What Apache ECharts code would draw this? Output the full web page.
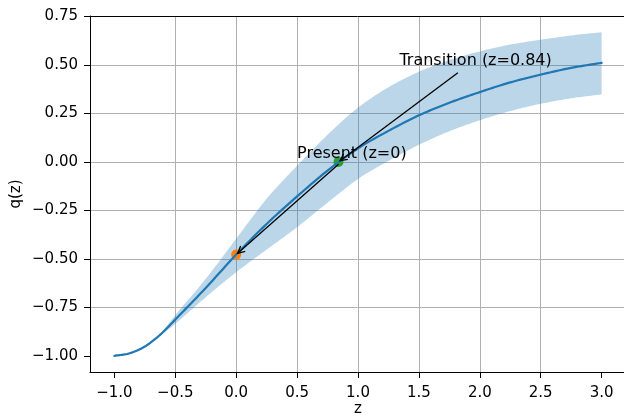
<!DOCTYPE html>
<html>
<head>
<meta charset="utf-8">
<script src="https://cdn.jsdelivr.net/npm/echarts@6/dist/echarts.min.js"></script>
<style>
html,body{margin:0;padding:0;background:#fff;}
#chart{width:624px;height:417px;}
</style>
</head>
<body>
<div id="chart"></div>
<script>
// ---- data ----
const zValues = [-1.0, -0.875, -0.75, -0.625, -0.5, -0.25, 0.0, 0.25, 0.5, 0.75, 1.0, 1.25, 1.5, 1.75, 2.0, 2.25, 2.5, 2.75, 3.0];
const qMedian = [-1.0, -0.987, -0.952, -0.892, -0.813, -0.65, -0.478, -0.32, -0.178, -0.045, 0.07, 0.16, 0.24, 0.305, 0.36, 0.41, 0.45, 0.485, 0.511];
const qLower  = [-1.0, -0.987, -0.953, -0.897, -0.835, -0.698, -0.569, -0.452, -0.337, -0.21, -0.088, 0.005, 0.088, 0.158, 0.215, 0.262, 0.30, 0.328, 0.348];
const qUpper  = [-1.0, -0.987, -0.951, -0.887, -0.790, -0.603, -0.396, -0.19, -0.02, 0.14, 0.28, 0.385, 0.465, 0.525, 0.57, 0.605, 0.63, 0.652, 0.669];

const presentPoint = [0.0, -0.478];
const transitionPoint = [0.84, 0.0];

const annLabels = ['Transition (z=0.84)', 'Present (z=0)'];
const annTextZ = [1.34, 0.5];
const annTextQ = [0.5, 0.022];
const annTailZ = [1.82, 0.84];
const annTailQ = [0.46, -0.012];
const annHeadZ = [0.84, 0.0];
const annHeadQ = [0.0, -0.478];

const xTicks = [-1.0, -0.5, 0.0, 0.5, 1.0, 1.5, 2.0, 2.5, 3.0];
const yTicks = [-1.0, -0.75, -0.5, -0.25, 0.0, 0.25, 0.5, 0.75];

// ---- build ----
const FONT = 'DejaVu Sans';
const xStep = xTicks[1] - xTicks[0];
const yStep = yTicks[1] - yTicks[0];
const xMinData = Math.min(...zValues), xMaxData = Math.max(...zValues);
const yMinData = Math.min(...qLower, ...qMedian), yMaxData = Math.max(...qUpper, ...qMedian);
const xPad = (xMaxData - xMinData) * 0.05, yPad = (yMaxData - yMinData) * 0.05;
const xMin = xMinData - xPad, xMax = xMaxData + xPad;
const yMin = yMinData - yPad, yMax = yMaxData + yPad;

function fmt(v, d) { return v.toFixed(d).replace('-', '\u2212'); }

const annData = annLabels.map((t, i) => [annTextZ[i], annTextQ[i], annTailZ[i], annTailQ[i], annHeadZ[i], annHeadQ[i], i]);

// cubic Hermite rendering of pixel points (x monotone) - drawing only
function smoothPixels(pts, steps) {
  const n = pts.length, m = [];
  for (let i = 0; i < n; i++) {
    const a = pts[Math.max(i - 1, 0)], b = pts[Math.min(i + 1, n - 1)];
    m.push((b[1] - a[1]) / (b[0] - a[0]));
  }
  const out = [];
  for (let i = 0; i < n - 1; i++) {
    const p0 = pts[i], p1 = pts[i + 1], h = p1[0] - p0[0];
    for (let s = 0; s < steps; s++) {
      const t = s / steps, t2 = t * t, t3 = t2 * t;
      const y = (2 * t3 - 3 * t2 + 1) * p0[1] + (t3 - 2 * t2 + t) * h * m[i] + (-2 * t3 + 3 * t2) * p1[1] + (t3 - t2) * h * m[i + 1];
      out.push([p0[0] + t * h, y]);
    }
  }
  out.push(pts[n - 1]);
  return out;
}

const chart = echarts.init(document.getElementById('chart'), null, {renderer: 'canvas'});

const axisLineStyle = {show: true, onZero: false, lineStyle: {color: '#000', width: 1}};
const splitStyle = {show: true, showMinLine: false, showMaxLine: false, lineStyle: {color: '#b0b0b0', width: 1}};

chart.setOption({
  animation: false,
  backgroundColor: '#fff',
  grid: {left: 90, top: 16, width: 536, height: 356, containLabel: false, outerBoundsMode: 'none'},
  xAxis: [
    {
      type: 'value', min: xMin, max: xMax, splitNumber: 9,
      minInterval: xStep, maxInterval: xStep,
      axisLine: axisLineStyle,
      axisTick: {show: true, inside: false, length: 6, customValues: xTicks, lineStyle: {color: '#000', width: 1}},
      splitLine: splitStyle,
      name: 'z', nameLocation: 'middle', nameGap: 30, nameMoveOverlap: false,
      nameTextStyle: {fontFamily: FONT, fontSize: 15, color: '#000'},
      axisLabel: {fontFamily: FONT, fontSize: 15, color: '#000', margin: 14,
        customValues: xTicks, formatter: v => fmt(v, 1)}
    },
    {type: 'value', position: 'top', min: xMin, max: xMax, z: 5,
      axisLine: axisLineStyle,
      axisTick: {show: false}, axisLabel: {show: false}, splitLine: {show: false}}
  ],
  yAxis: {
    type: 'value', min: yMin, max: yMax, splitNumber: 7,
    minInterval: yStep, maxInterval: yStep,
    axisLine: axisLineStyle,
    axisTick: {show: true, inside: false, length: 6, customValues: yTicks, lineStyle: {color: '#000', width: 1}},
    splitLine: splitStyle,
    name: 'q(z)', nameLocation: 'middle', nameGap: 66, nameMoveOverlap: false,
    nameTextStyle: {fontFamily: FONT, fontSize: 15, color: '#000'},
    axisLabel: {fontFamily: FONT, fontSize: 15, color: '#000', margin: 12,
      customValues: yTicks, formatter: v => fmt(v, 2)}
  },
  series: [
    {type: 'custom', z: 1, silent: true, data: [[0]],
      renderItem: function (params, api) {
        const up = smoothPixels(zValues.map((z, i) => api.coord([z, qUpper[i]])), 12);
        const lo = smoothPixels(zValues.map((z, i) => api.coord([z, qLower[i]])), 12).reverse();
        return {type: 'polygon', shape: {points: up.concat(lo)},
          style: {fill: 'rgba(31,119,180,0.3)', stroke: null}};
      }
    },
    {type: 'scatter', data: [presentPoint], symbolSize: 10, itemStyle: {color: '#ff7f0e', opacity: 1}, z: 2},
    {type: 'scatter', data: [transitionPoint], symbolSize: 10, itemStyle: {color: '#2ca02c', opacity: 1}, z: 2},
    {type: 'custom', z: 3, silent: true, data: [[0]],
      renderItem: function (params, api) {
        const pts = smoothPixels(zValues.map((z, i) => api.coord([z, qMedian[i]])), 12);
        return {type: 'polyline', shape: {points: pts},
          style: {stroke: '#1f77b4', lineWidth: 2.2, fill: null, lineJoin: 'round', lineCap: 'round'}};
      }
    },
    {type: 'custom', z: 4, clip: false, data: annData,
      renderItem: function (params, api) {
        const txt = api.coord([api.value(0), api.value(1)]);
        const tail = api.coord([api.value(2), api.value(3)]);
        let head = api.coord([api.value(4), api.value(5)]);
        const dx = head[0] - tail[0], dy = head[1] - tail[1];
        const len = Math.sqrt(dx * dx + dy * dy);
        const ux = dx / len, uy = dy / len;
        head = [head[0] - ux * 2, head[1] - uy * 2];
        const hl = 7, hw = 3.5;
        const bx = head[0] - ux * hl, by = head[1] - uy * hl;
        const px = -uy, py = ux;
        const idx = api.value(6);
        return {
          type: 'group',
          children: [
            {type: 'line', shape: {x1: tail[0], y1: tail[1], x2: head[0], y2: head[1]},
              style: {stroke: '#000', lineWidth: 1.3}},
            {type: 'polyline', shape: {points: [[bx + px * hw, by + py * hw], head, [bx - px * hw, by - py * hw]]},
              style: {stroke: '#000', lineWidth: 1.3, fill: null}},
            {type: 'text', x: txt[0], y: txt[1] + 4,
              style: {text: annLabels[idx], font: '16px "DejaVu Sans"', fill: '#000',
                align: 'left', verticalAlign: 'bottom'}}
          ]
        };
      }
    }
  ]
});
</script>
</body>
</html>
